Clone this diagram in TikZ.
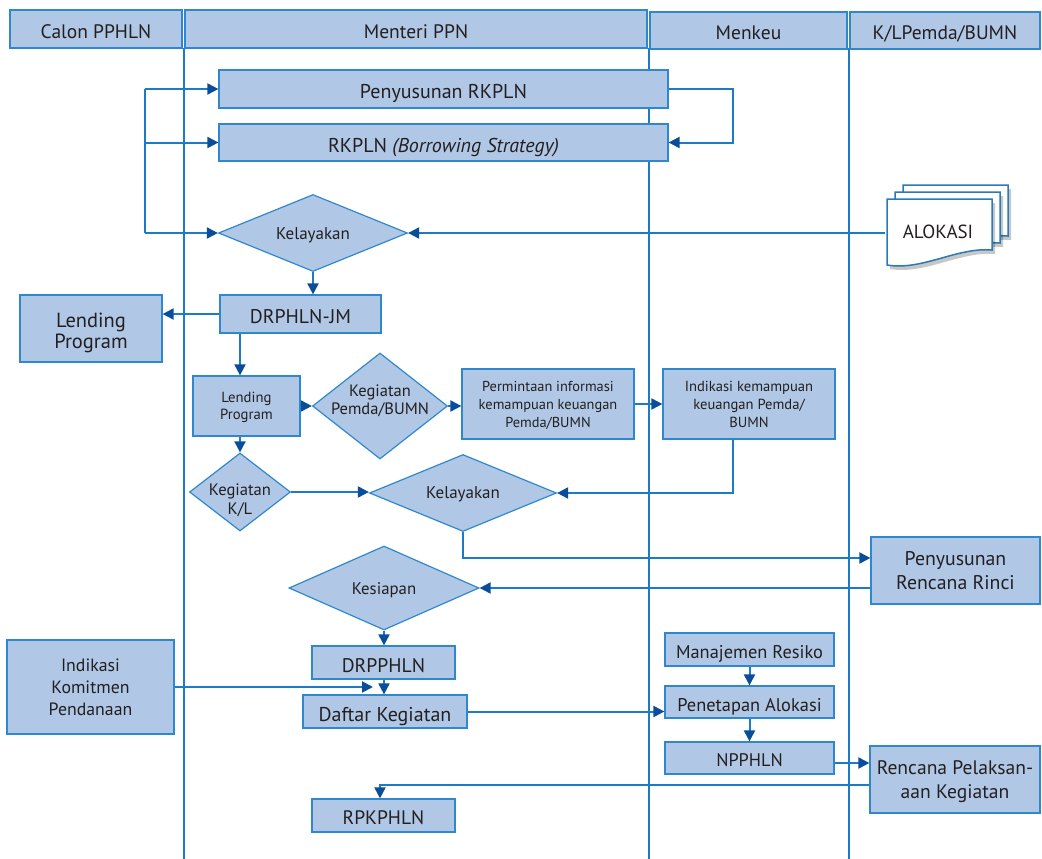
\documentclass[tikz,border=0pt]{standalone}
\usepackage{fontspec}
\setmainfont{PT Sans}
\usetikzlibrary{arrows.meta,shapes.geometric}
\definecolor{fillc}{HTML}{B0C8E6}
\definecolor{edgec}{HTML}{2F88CC}
\definecolor{linec}{HTML}{1C7AC6}
\definecolor{tipc}{HTML}{0A4E9B}
\definecolor{txt}{HTML}{231F20}
\tikzset{
  box/.style={draw=edgec, fill=fillc, line width=1.2pt, text=txt, align=center, inner sep=0pt, text depth=0pt},
  dia/.style={diamond, draw=edgec, fill=fillc, line width=1.2pt, inner sep=0pt},
  dtext/.style={text=txt, align=center, inner sep=0pt, text depth=0pt},
  lane/.style={draw=linec, line width=2pt},
  conn/.style={draw=linec, line width=2pt},
  arr/.style={draw=linec, line width=2pt, -{Triangle[length=11pt,width=11pt,fill=tipc,color=tipc]}},
  page/.style={draw=edgec!90!black, fill=white, line width=1.5pt},
  pshadow/.style={fill=black, opacity=0.22},
}
\newcommand\fs[2]{\fontsize{#1}{#2}\selectfont}
% box with text shifted slightly down: name, x, y, w, h, font size, text
\newcommand\bx[7]{%
  \node[box, minimum width=#4pt, minimum height=#5pt] (#1) at (#2,#3) {};
  \node[dtext, font=\fs{#6}{#6}] (#1-t) at ([yshift=-2.5pt]#1.center) {#7};}
\newcommand\docpage[2]{%
  \fill[pshadow] (#1+3,#2+4) -- (#1+108,#2+4) -- (#1+108,#2+55) .. controls (#1+73,#2+52) and (#1+38,#2+76) .. (#1+3,#2+70) -- cycle;
  \draw[page] (#1,#2) -- (#1+105,#2) -- (#1+105,#2+51) .. controls (#1+70,#2+48) and (#1+35,#2+72) .. (#1,#2+66) -- cycle;}
\begin{document}
\begin{tikzpicture}[x=1pt,y=-1pt]
\useasboundingbox (0,0) rectangle (1042,859);
% lane lines
\coordinate (l1t) at (183.5,48); \coordinate (l1b) at (183.5,859);
\coordinate (l2t) at (648.5,48); \coordinate (l2b) at (648.5,859);
\coordinate (l3t) at (848.5,48); \coordinate (l3b) at (848.5,859);
\draw[lane] (l1t) -- (l1b);
\draw[lane] (l2t) -- (l2b);
\draw[lane] (l3t) -- (l3b);
% headers
\bx{h1}{96}{29}{172}{38}{19.5}{Calon PPHLN}
\bx{h2}{416}{29}{462}{38}{19.5}{Menteri PPN}
\bx{h3}{748.5}{30.5}{197}{37}{19.5}{Menkeu}
\bx{h4}{945}{30.5}{190}{37}{19.5}{K/LPemda/BUMN}
% top boxes
\bx{pr}{443.5}{89}{449}{38}{20}{Penyusunan RKPLN}
\bx{rk}{443.5}{142.5}{449}{37}{20}{RKPLN \textit{(Borrowing Strategy)}}
\node[dia, minimum width=189pt, minimum height=77pt] (kel1) at (313,233) {};
\node[dtext, font=\fs{17}{20}] (kel1t) at (313,234) {Kelayakan};
% ALOKASI document
\docpage{903}{185}
\docpage{895}{192}
\docpage{887}{199}
\node[dtext, minimum width=105pt, minimum height=66pt, font=\fs{19}{22}] (alok) at (938,232) {ALOKASI};
% left loop
\coordinate (lx) at (145,0);
\draw[conn] (lx |- pr.west) -- (lx |- kel1.west);
\draw[arr] (lx |- pr.west) -- (pr.west);
\draw[arr] (lx |- rk.west) -- (rk.west);
\draw[arr] (lx |- kel1.west) -- (kel1.west);
\draw[arr] (pr.east) -- ++(64,0) |- (rk.east);
\draw[arr] (kel1.east -| alok.west) -- (kel1.east);
% second tier
\node[box, minimum width=142pt, minimum height=67pt, font=\fs{20.5}{20.5}] (lp1) at (91,328.5) {};
\node[dtext, font=\fs{20.5}{20.5}] (lp1-t) at ([yshift=-2pt]lp1.center) {Lending\\Program};
\bx{drj}{300.5}{314}{161}{38}{19.8}{DRPHLN-JM}
\draw[arr] (kel1.south) -- (kel1.south |- drj.north);
\draw[arr] (drj.west) -- (drj.west -| lp1.east);
\node[box, minimum width=107pt, minimum height=60pt, font=\fs{14.7}{16.5}] (lp2) at (246.5,406) {Lending\\Program};
\coordinate (c240) at (240,0);
\draw[arr] (c240 |- drj.south) -- (c240 |- lp2.north);
\node[dia, minimum width=135pt, minimum height=106pt] (kp) at (380,406) {};
\node[dtext, font=\fs{16.5}{18}] (kpt) at (380,400) {Kegiatan\\Pemda/BUMN};
\node[box, minimum width=172pt, minimum height=70pt, font=\fs{14.4}{18}] (pi) at (548,404) {Permintaan informasi\\kemampuan keuangan\\Pemda/BUMN};
\node[box, minimum width=172pt, minimum height=70pt, font=\fs{14.6}{18}] (ik) at (749,404) {Indikasi kemampuan\\keuangan Pemda/\\BUMN};
\draw[arr] (lp2.east) -- (kp.west);
\draw[arr] (kp.east) -- (kp.east -| pi.west);
\draw[arr] (pi.east) -- (ik.west);
\node[dia, minimum width=101pt, minimum height=78pt] (kkl) at (240,492) {};
\node[dtext, font=\fs{16.6}{19}] (kklt) at (240,499) {Kegiatan\\K/L};
\draw[arr] (c240 |- lp2.south) -- (kkl.north);
\node[dia, minimum width=187pt, minimum height=77pt] (kel2) at (463,493) {};
\node[dtext, font=\fs{17}{20}] (kel2t) at (463,493) {Kelayakan};
\draw[arr] (kkl.east) -- (kkl.east -| kel2.west);
\coordinate (c733) at (733,0);
\draw[arr] (c733 |- ik.south) |- (kel2.east);
\node[box, minimum width=169pt, minimum height=67pt, font=\fs{19.8}{24}] (prr) at (955.5,570.5) {Penyusunan\\Rencana Rinci};
\coordinate (y558) at (0,558);
\draw[arr] (kel2.south) |- (prr.west |- y558);
\node[dia, minimum width=190pt, minimum height=84pt] (kes) at (384,588) {};
\node[dtext, font=\fs{16.8}{20}] (kest) at (384,588.5) {Kesiapan};
\draw[arr] (prr.west |- kes.east) -- (kes.east);
% lower part
\node[box, minimum width=167pt, minimum height=94pt, font=\fs{17.8}{22}] (ikp) at (90.5,687) {Indikasi\\Komitmen\\Pendanaan};
\bx{drp}{383.5}{662.5}{143}{33}{19.7}{DRPPHLN}
\bx{dk}{385}{711.5}{164}{33}{20}{Daftar Kegiatan}
\draw[arr] (kes.south) -- (kes.south |- drp.north);
\draw[arr] (kes.south |- drp.south) -- (kes.south |- dk.north);
\coordinate (c373) at (373,0);
\draw[arr] (ikp.east) -- (ikp.east -| c373);
\bx{mr}{749.5}{649.5}{169}{33}{18.4}{Manajemen Resiko}
\bx{pa}{749.5}{702}{169}{32}{18.4}{Penetapan Alokasi}
\bx{np}{749.5}{758}{169}{32}{18.2}{NPPHLN}
\draw[arr] (dk.east) -- (dk.east -| pa.west);
\draw[arr] (mr.south) -- (pa.north);
\draw[arr] (pa.south) -- (np.north);
\node[box, minimum width=170pt, minimum height=67pt, font=\fs{19.6}{24}] (rpk) at (955,779.5) {Rencana Pelaksan-\\aan Kegiatan};
\coordinate (y763) at (0,763);
\draw[arr] (np.east |- y763) -- (rpk.west |- y763);
\bx{rpkp}{383.5}{815.5}{143}{33}{19.5}{RPKPHLN}
\coordinate (y785) at (0,785);
\coordinate (c380) at (380,0);
\draw[arr] (rpk.west |- y785) -| (c380 |- rpkp.north);
\end{tikzpicture}
\end{document}
